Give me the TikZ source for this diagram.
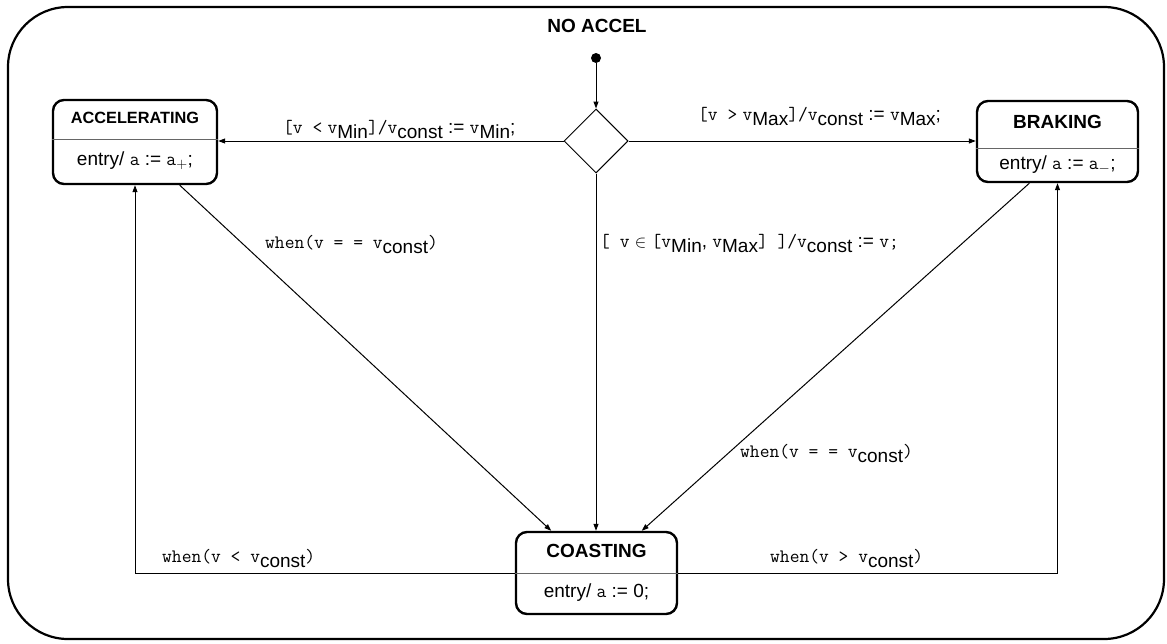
\documentclass[tikz,border=0pt]{standalone}
\usepackage{fontspec}
\setmainfont{Liberation Sans}
\usetikzlibrary{arrows.meta,shapes.geometric}
% typewriter variables and lowered sans subscripts used in the guards
\newcommand\tvar[1]{{\ttfamily\fontsize{19}{21}\selectfont #1}}
\newcommand\tsub[1]{\raisebox{-5pt}{#1}}
\begin{document}
\begin{tikzpicture}[x=1pt,y=-1pt,
  statebox/.style={draw,line width=2.4pt,rounded corners=11pt,inner sep=0pt},
  sname/.style={font=\bfseries\fontsize{19}{22}\selectfont},
  entrytxt/.style={font=\fontsize{19}{22}\selectfont},
  guard/.style={font=\fontsize{19}{22}\selectfont,inner sep=0pt},
  divider/.style={draw=black!60,line width=0.8pt},
  conn/.style={line width=1pt,-{Triangle[length=7pt,width=5pt]}},
]
\useasboundingbox (0,0) rectangle (1167,643);

% enclosing superstate
\draw[line width=2.2pt,rounded corners=60pt] (8,7) rectangle (1164,639);
\node[font=\bfseries\fontsize{19}{22}\selectfont] (title) at (597,26) {NO ACCEL};

% initial pseudostate and choice point
\node[circle,fill,inner sep=0pt,minimum size=10pt] (init) at (596,58) {};
\node[diamond,draw,line width=1pt,inner sep=0pt,minimum width=64pt,minimum height=64pt] (dia) at (596,141) {};

% ACCELERATING
\node[statebox,minimum width=164pt,minimum height=84pt] (acc) at (135,142) {};
\node[font=\bfseries\fontsize{16.3}{18}\selectfont] (accname) at (135,118) {ACCELERATING};
\draw[divider] (acc.west |- 0,139) -- (acc.east |- 0,139);
\node[entrytxt] (accentry) at (135,161) {entry/ \tvar{a} := \tvar{a}$_{+}$;};

% BRAKING
\node[statebox,minimum width=161pt,minimum height=81pt] (brk) at (1057.5,141.5) {};
\node[sname] (brkname) at (1057.5,122) {BRAKING};
\draw[divider] (brk.west |- 0,148) -- (brk.east |- 0,148);
\node[entrytxt] (brkentry) at (1057.5,165) {entry/ \tvar{a} := \tvar{a}$_{-}$;};

% COASTING
\node[statebox,minimum width=161pt,minimum height=82pt] (coast) at (596.5,573) {};
\node[sname] (coastname) at (596.5,551) {COASTING};
\draw[divider] (coast.west |- 0,573) -- (coast.east |- 0,573);
\node[entrytxt] (coastentry) at (596.5,593) {entry/ \tvar{a} := 0;};

% transitions
\draw[conn] (init) -- (dia.north);
\draw[conn] (dia.west) -- (acc.east |- dia.west);
\draw[conn] (dia.east) -- (brk.west |- dia.east);
\draw[conn] (dia.south) -- (dia.south |- coast.north);
\draw[conn] (acc.-44) -- (coast.137.6);
\draw[conn] (brk.-124) -- (coast.43.6);
\draw[conn] (coast.west) -| (acc.south);
\draw[conn] (coast.east) -| (brk.south);

% guards and actions
\node[guard,anchor=base west] (g1) at (283,133)
  {\tvar{[v <} \tvar{v}\tsub{Min}\tvar{]/v}\tsub{const} := \tvar{v}\tsub{Min};};
\node[guard,anchor=base west] (g2) at (698,120)
  {\tvar{[v >} \tvar{v}\tsub{Max}\tvar{]/v}\tsub{const} := \tvar{v}\tsub{Max};};
\node[guard,anchor=base west] (g3) at (600,247)
  {\tvar{[ v} $\in$ \tvar{[v}\tsub{Min}, \tvar{v}\tsub{Max}\tvar{] ]/v}\tsub{const} := \tvar{v;}};
\node[guard,anchor=base west] (g4) at (265,248) {\tvar{when(v = = v}\tsub{const}\tvar{)}};
\node[guard,anchor=base west] (g5) at (740,457) {\tvar{when(v = = v}\tsub{const}\tvar{)}};
\node[guard,anchor=base west] (g6) at (162,562) {\tvar{when(v < v}\tsub{const}\tvar{)}};
\node[guard,anchor=base west] (g7) at (770,562) {\tvar{when(v > v}\tsub{const}\tvar{)}};
\end{tikzpicture}
\end{document}
